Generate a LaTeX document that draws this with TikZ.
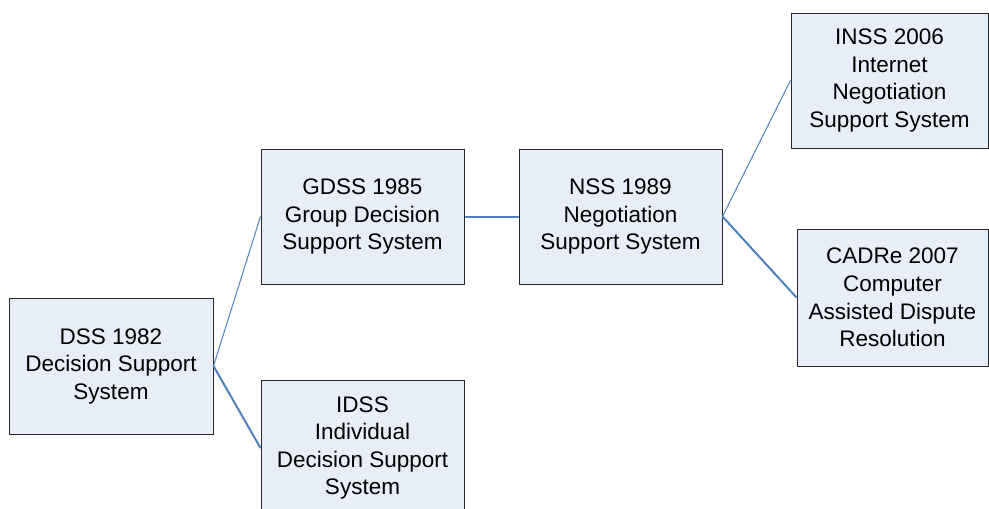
\documentclass[tikz,border=0pt]{standalone}
\usepackage{fontspec}
\setmainfont{Liberation Sans}
\definecolor{boxfill}{RGB}{232,238,247}
\definecolor{boxline}{RGB}{40,40,40}
\definecolor{linkblue}{RGB}{79,129,189}
\begin{document}
\begin{tikzpicture}[x=1pt,y=-1pt,
  sbox/.style={draw=boxline, line width=1pt, fill=boxfill, inner sep=0pt, align=center,
    font=\fontsize{22.5pt}{27.5pt}\selectfont, text=black},
  thin link/.style={draw=linkblue, line width=1pt},
  thick link/.style={draw=linkblue, line width=2pt}]
\useasboundingbox (0,0) rectangle (989,509);
\clip (0,0) rectangle (989,509);
\fill[white] (0,0) rectangle (989,509);
\node[sbox, minimum width=204pt, minimum height=136pt] (dss) at (111,366) {DSS 1982\\Decision Support\\System};
\node[sbox, minimum width=203pt, minimum height=135pt] (gdss) at (362.5,216.5) {GDSS 1985\\Group Decision\\Support System};
\node[sbox, minimum width=203pt, minimum height=136pt] (idss) at (362.5,448) {IDSS\\Individual\\Decision Support\\System};
\node[sbox, minimum width=203pt, minimum height=135pt] (nss) at (620.5,216.5) {NSS 1989\\Negotiation\\Support System};
\node[sbox, minimum width=197pt, minimum height=135pt] (inss) at (889.5,80.5) {INSS 2006\\Internet\\Negotiation\\Support System};
\node[sbox, minimum width=191pt, minimum height=137pt] (cadre) at (892.5,297.5) {CADRe 2007\\Computer\\Assisted Dispute\\Resolution};
\draw[thin link] (dss.east) -- (gdss.west);
\draw[thick link] (dss.east) -- (idss.west);
\draw[thick link] (gdss.east) -- (nss.west);
\draw[thin link] (nss.east) -- (inss.west);
\draw[thick link] (nss.east) -- (cadre.west);
\end{tikzpicture}
\end{document}
